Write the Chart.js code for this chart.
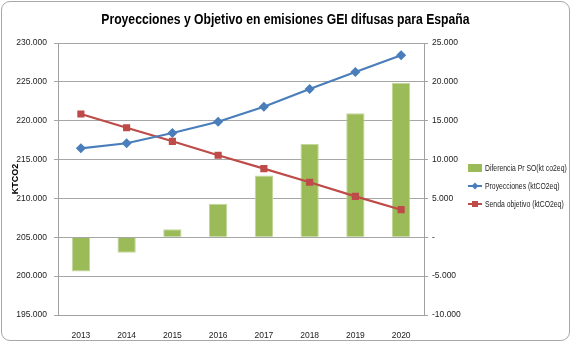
<!DOCTYPE html>
<html>
<head>
<meta charset="utf-8">
<script src="https://cdn.jsdelivr.net/npm/chart.js@4/dist/chart.umd.min.js"></script>
<style>
    html, body { margin: 0; padding: 0; background: #fff; }
    #wrap { position: relative; width: 571px; height: 342px; overflow: hidden; }
    #frame { position: absolute; left: 1px; top: 1px; right: 1px; bottom: 1px; border: 1px solid #a8a8a8; border-radius: 9px; pointer-events: none; }
    #title { position: absolute; left: 0; top: 11px; width: 571px; text-align: center; font: bold 14.5px "Liberation Sans", Arial, sans-serif; color: #000; transform: scaleX(0.84); transform-origin: 285px 0; white-space: nowrap; }
    #legend { position: absolute; left: 467px; top: 159px; font: 9px "Liberation Sans", Arial, sans-serif; color: #222; }
    #legend div { height: 18px; display: flex; align-items: center; white-space: nowrap; }
    #legend span { display: inline-block; transform: scaleX(0.76); transform-origin: 0 50%; }
    #legend svg { margin-right: 2px; }
</style>
</head>
<body>
<div id="wrap">
    <canvas id="chart" width="571" height="342"></canvas>
    <div id="title"></div>
    <div id="legend"></div>
    <div id="frame"></div>
</div>
<script>
const FONT = '"Liberation Sans", Arial, sans-serif';

const years = ['2013', '2014', '2015', '2016', '2017', '2018', '2019', '2020'];
const proyecciones = [216450, 217100, 218420, 219870, 221800, 224080, 226270, 228420];
const sendaObjetivo = [220860, 219100, 217350, 215550, 213830, 212080, 210270, 208550];
const diferencia = [-4400, -2000, 1050, 4300, 7950, 12000, 15950, 19900];

const leftTicks = { min: 195000, max: 230000, step: 5000 };
const rightTicks = { min: -10000, max: 25000, step: 5000 };

const labels = {
    title: 'Proyecciones y Objetivo en emisiones GEI difusas para España',
    yTitle: 'KTCO2',
    bar: 'Diferencia Pr SO(kt co2eq)',
    proy: 'Proyecciones (ktCO2eq)',
    senda: 'Senda objetivo (ktCO2eq)'
};

const GREEN = '#9bbb59';
const BLUE = '#4a7ebb';
const RED = '#be4b48';

function fmt(v) {
    if (v === 0) return '-';
    return new Intl.NumberFormat('de-DE').format(v);
}

document.getElementById('title').textContent = labels.title;

new Chart(document.getElementById('chart'), {
    type: 'bar',
    data: {
        labels: years,
        datasets: [{
            type: 'bar',
            label: labels.bar,
            data: diferencia,
            yAxisID: 'y2',
            backgroundColor: GREEN,
            borderColor: '#c3d69b',
            borderWidth: 1,
            barPercentage: 0.8,
            categoryPercentage: 0.5,
            order: 2
        }, {
            type: 'line',
            label: labels.proy,
            data: proyecciones,
            yAxisID: 'y',
            borderColor: BLUE,
            backgroundColor: BLUE,
            borderWidth: 2.2,
            pointStyle: 'rectRot',
            pointRadius: 3.5,
            tension: 0,
            order: 1
        }, {
            type: 'line',
            label: labels.senda,
            data: sendaObjetivo,
            yAxisID: 'y',
            borderColor: RED,
            backgroundColor: RED,
            borderWidth: 2.2,
            pointStyle: 'rect',
            pointRadius: 3.5,
            tension: 0,
            order: 1
        }]
    },
    options: {
        responsive: false,
        animation: false,
        layout: { padding: { left: 0, right: 0, top: 43, bottom: 0 } },
        plugins: {
            legend: { display: false },
            tooltip: { enabled: false }
        },
        scales: {
            x: {
                grid: { display: false },
                border: { color: '#a0a0a0' },
                ticks: { color: '#222', font: { family: FONT, size: 8.5 }, padding: 8 },
                afterFit: s => { s.height = 27; }
            },
            y: {
                position: 'left',
                min: leftTicks.min,
                max: leftTicks.max,
                ticks: { stepSize: leftTicks.step, color: '#222', font: { family: FONT, size: 8.5 }, padding: 7, callback: v => fmt(v) },
                grid: { color: '#a6a6a6', tickLength: 4 },
                border: { color: '#a0a0a0' },
                title: { display: true, text: labels.yTitle, color: '#000', font: { family: FONT, size: 9, weight: 'bold' }, padding: { top: 10, bottom: 0 } },
                afterFit: s => { s.width = 58; }
            },
            y2: {
                position: 'right',
                min: rightTicks.min,
                max: rightTicks.max,
                ticks: { stepSize: rightTicks.step, color: '#222', font: { family: FONT, size: 8.5 }, padding: 4, callback: v => fmt(v) },
                grid: { drawOnChartArea: false, color: '#a0a0a0', tickLength: 4 },
                border: { color: '#a0a0a0' },
                afterFit: s => { s.width = 147; }
            }
        }
    }
});

// legend
const legend = document.getElementById('legend');
const items = [
    { text: labels.bar, svg: `<rect x="1" y="3" width="14" height="8" fill="${GREEN}"/>` },
    { text: labels.proy, svg: `<line x1="1" y1="7" x2="15" y2="7" stroke="${BLUE}" stroke-width="2"/><rect x="5.5" y="4.5" width="5" height="5" fill="${BLUE}" transform="rotate(45 8 7)"/>` },
    { text: labels.senda, svg: `<line x1="1" y1="7" x2="15" y2="7" stroke="${RED}" stroke-width="2"/><rect x="5" y="4" width="6" height="6" fill="${RED}"/>` }
];
items.forEach(it => {
    legend.innerHTML += `<div><svg width="16" height="14">${it.svg}</svg><span>${it.text}</span></div>`;
});
</script>
</body>
</html>
